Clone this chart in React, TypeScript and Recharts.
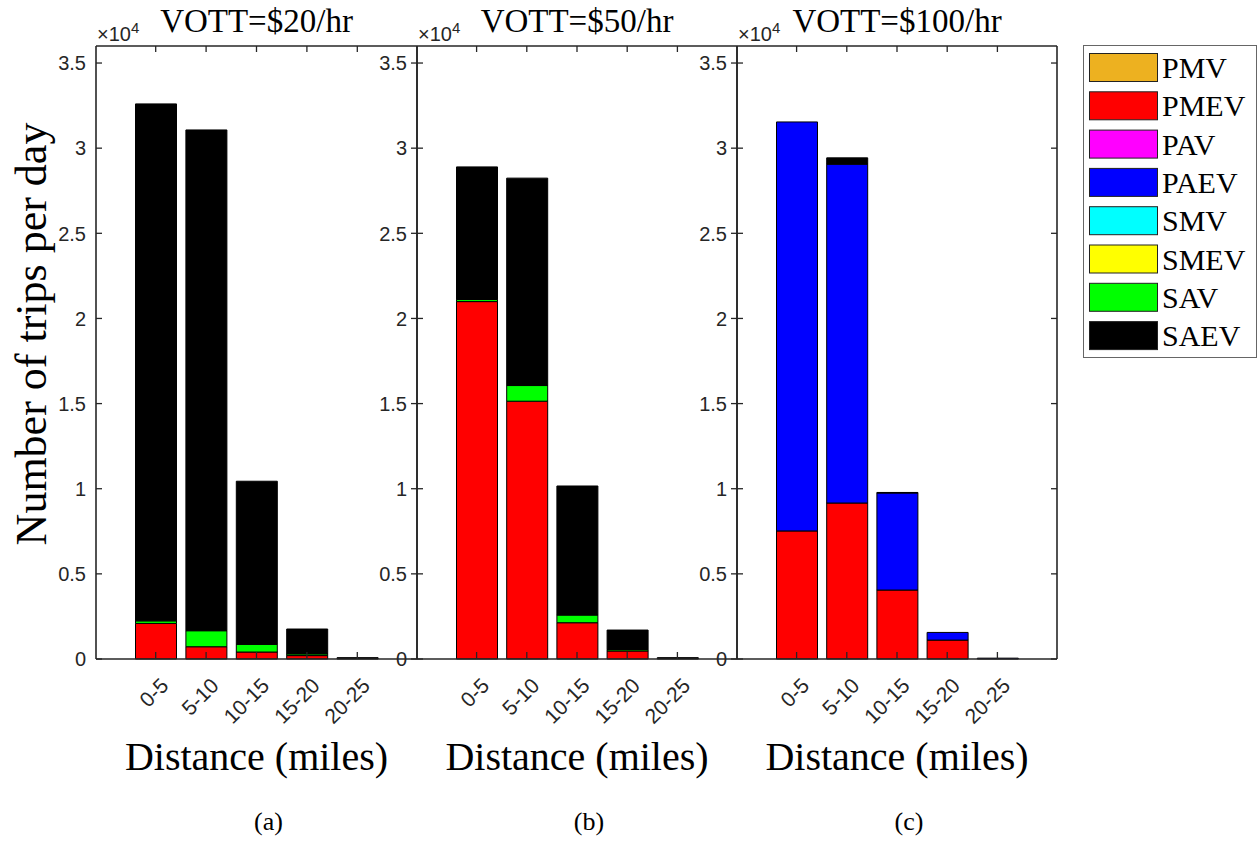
import { Bar, BarChart, XAxis, YAxis } from 'recharts'

const categories = ['0-5', '5-10', '10-15', '15-20', '20-25']

const seriesNames = ['PMV', 'PMEV', 'PAV', 'PAEV', 'SMV', 'SMEV', 'SAV', 'SAEV']
const seriesColors = ['#EDB120', '#FF0000', '#FF00FF', '#0000FF', '#00FFFF', '#FFFF00', '#00FF00', '#000000']

const yTicks = [0, 5000, 10000, 15000, 20000, 25000, 30000, 35000]

const none = [0, 0, 0, 0, 0]

// VOTT = $20/hr
const pmev20 = [2090, 720, 410, 200, 0]
const sav20 = [150, 940, 450, 100, 0]
const saev20 = [30360, 29410, 9580, 1460, 80]

// VOTT = $50/hr
const pmev50 = [20990, 15140, 2130, 470, 0]
const sav50 = [120, 920, 450, 80, 0]
const saev50 = [7790, 12180, 7580, 1150, 80]

// VOTT = $100/hr
const pmev100 = [7520, 9160, 4050, 1110, 0]
const paev100 = [24020, 19900, 5700, 450, 50]
const saev100 = [0, 370, 30, 0, 0]

const AXIS_W = 96
const RIGHT_W = 13
const PLOT_TOP = 46
const PLOT_BOTTOM = 659
const CHART_H = 860
const AXIS_COLOR = '#262626'
const SERIF = '"Liberation Serif", "Times New Roman", serif'
const SANS = '"Liberation Sans", Arial, Helvetica, sans-serif'

const panels = [
  { title: 'VOTT=$20/hr', caption: '(a)', plotWidth: 321, values: [none, pmev20, none, none, none, none, sav20, saev20] },
  { title: 'VOTT=$50/hr', caption: '(b)', plotWidth: 320, values: [none, pmev50, none, none, none, none, sav50, saev50] },
  { title: 'VOTT=$100/hr', caption: '(c)', plotWidth: 320, values: [none, pmev100, none, paev100, none, none, none, saev100] },
]

const buildRows = (values: number[][]) =>
  categories.map((cat, i) => {
    const row: Record<string, string | number> = { cat }
    seriesNames.forEach((name, k) => {
      row[name] = values[k][i]
    })
    return row
  })

const makeYTick = (plotRight: number) => (props: any) => {
  const { y, payload } = props
  return (
    <g>
      <line x1={AXIS_W} x2={AXIS_W + 6} y1={y} y2={y} stroke={AXIS_COLOR} strokeWidth={1.3} />
      <line x1={plotRight} x2={plotRight - 6} y1={y} y2={y} stroke={AXIS_COLOR} strokeWidth={1.3} />
      <text x={AXIS_W - 10} y={y} dy="0.36em" textAnchor="end" fontFamily={SANS} fontSize={20} fill={AXIS_COLOR}>
        {payload.value / 10000}
      </text>
    </g>
  )
}

const XTick = (props: any) => {
  const { x, payload } = props
  return (
    <g>
      <line x1={x} x2={x} y1={PLOT_BOTTOM} y2={PLOT_BOTTOM - 7} stroke={AXIS_COLOR} strokeWidth={1.3} />
      <line x1={x} x2={x} y1={PLOT_TOP} y2={PLOT_TOP + 6} stroke={AXIS_COLOR} strokeWidth={1.3} />
      <text
        transform={`translate(${x + 14},${PLOT_BOTTOM + 28}) rotate(-45)`}
        textAnchor="end"
        fontFamily={SANS}
        fontSize={21}
        fill={AXIS_COLOR}
      >
        {payload.value}
      </text>
    </g>
  )
}

const TitleLabel = ({ cx, title }: { cx: number; title: string }) => (
  <g>
    <text x={AXIS_W + 1} y={41} fontFamily={SANS} fontSize={20} fill={AXIS_COLOR}>
      ×10
      <tspan dy={-8} fontSize={15}>4</tspan>
    </text>
    <text x={cx} y={32} textAnchor="middle" fontFamily={SERIF} fontSize={33} fill="#000">
      {title}
    </text>
  </g>
)

const BottomLabel = ({ cx, caption }: { cx: number; caption: string }) => (
  <g>
    <text x={cx} y={770} textAnchor="middle" fontFamily={SERIF} fontSize={40} fill="#000">
      Distance (miles)
    </text>
    <text x={cx + 12} y={830} textAnchor="middle" fontFamily={SERIF} fontSize={26} fill="#000">
      {caption}
    </text>
  </g>
)

const YLabel = () => (
  <text
    transform={`translate(46,334) rotate(-90)`}
    textAnchor="middle"
    fontFamily={SERIF}
    fontSize={44}
    fill="#000"
  >
    Number of trips per day
  </text>
)

function Panel({ index }: { index: number }) {
  const p = panels[index]
  const rows = buildRows(p.values)
  const plotLeftPage = 96 + panels.slice(0, index).reduce((s, q) => s + q.plotWidth, 0)
  const width = AXIS_W + p.plotWidth + RIGHT_W
  const plotRight = AXIS_W + p.plotWidth
  const cx = AXIS_W + p.plotWidth / 2
  const pad = { left: 34.5, right: 34.5 }

  return (
    <div style={{ position: 'absolute', left: plotLeftPage - AXIS_W, top: 0 }}>
      <BarChart width={width} height={CHART_H} data={rows} margin={{ top: 0, right: 0, bottom: 0, left: 0 }} barSize={41}>
        <XAxis
          dataKey="cat"
          height={CHART_H - PLOT_BOTTOM}
          padding={pad}
          interval={0}
          tickLine={false}
          axisLine={{ stroke: AXIS_COLOR, strokeWidth: 1.6 }}
          tick={<XTick />}
          label={<BottomLabel cx={cx} caption={p.caption} />}
        />
        <XAxis
          xAxisId="top"
          orientation="top"
          dataKey="cat"
          height={PLOT_TOP}
          padding={pad}
          tick={false}
          tickLine={false}
          axisLine={{ stroke: AXIS_COLOR, strokeWidth: 1.6 }}
          label={<TitleLabel cx={cx} title={p.title} />}
        />
        <YAxis
          width={AXIS_W}
          domain={[0, 36000]}
          ticks={yTicks}
          interval={0}
          tickLine={false}
          axisLine={{ stroke: AXIS_COLOR, strokeWidth: 1.6 }}
          tick={makeYTick(plotRight)}
          label={index === 0 ? <YLabel /> : undefined}
        />
        <YAxis
          yAxisId="r"
          orientation="right"
          width={RIGHT_W}
          domain={[0, 36000]}
          tick={false}
          tickLine={false}
          axisLine={{ stroke: AXIS_COLOR, strokeWidth: 1.6 }}
        />
        {seriesNames.map((name, k) => (
          <Bar
            key={name}
            dataKey={name}
            stackId="trips"
            fill={seriesColors[k]}
            stroke="#000"
            strokeWidth={1}
            isAnimationActive={false}
          />
        ))}
      </BarChart>
    </div>
  )
}

function LegendBox() {
  return (
    <svg width={179} height={325} style={{ position: 'absolute', left: 1080, top: 40 }}>
      <rect x={3.5} y={5.5} width={173} height={312} fill="#fff" stroke="#666" strokeWidth={1} />
      {seriesNames.map((name, k) => (
        <g key={name}>
          <rect x={9.5} y={13.5 + k * 38.3} width={68} height={28} fill={seriesColors[k]} stroke="#222" strokeWidth={1} />
          <text x={82} y={38 + k * 38.3} fontFamily={SERIF} fontSize={30} fill="#000">
            {name}
          </text>
        </g>
      ))}
    </svg>
  )
}

export default function App() {
  return (
    <div style={{ position: 'absolute', left: 0, top: 0, width: 1259, height: 865, background: '#fff' }}>
      {panels.map((p, i) => (
        <Panel key={p.caption} index={i} />
      ))}
      <LegendBox />
    </div>
  )
}
